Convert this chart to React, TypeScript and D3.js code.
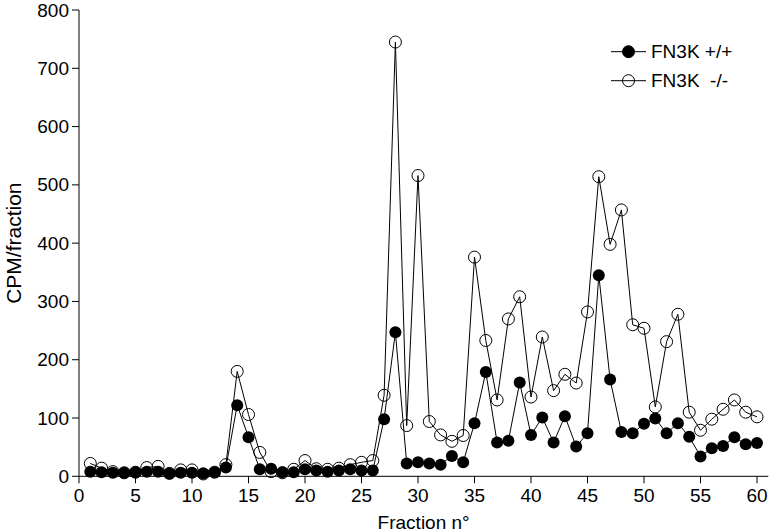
import React from "react";
import * as d3 from "d3";

const fractions = [
  1, 2, 3, 4, 5, 6, 7, 8, 9, 10, 11, 12, 13, 14, 15, 16, 17, 18, 19, 20,
  21, 22, 23, 24, 25, 26, 27, 28, 29, 30, 31, 32, 33, 34, 35, 36, 37, 38, 39, 40,
  41, 42, 43, 44, 45, 46, 47, 48, 49, 50, 51, 52, 53, 54, 55, 56, 57, 58, 59, 60,
];

const wildType = [
  8, 7, 6, 6, 7, 8, 8, 5, 6, 6, 5, 7, 15, 122, 67, 12, 13, 7, 7, 12,
  10, 8, 10, 12, 10, 10, 98, 247, 22, 24, 22, 20, 35, 24, 91, 179, 58, 61, 161, 71,
  101, 58, 103, 51, 74, 345, 166, 76, 74, 90, 99, 74, 91, 68, 34, 48, 52, 67, 55, 57,
];

const knockOut = [
  22, 14, 8, 6, 7, 15, 17, 5, 11, 11, 4, 7, 20, 180, 106, 41, 8, 6, 12, 27,
  13, 12, 14, 20, 24, 27, 139, 745, 87, 516, 94, 71, 60, 70, 376, 233, 131, 270, 308, 136,
  239, 147, 175, 160, 282, 514, 398, 457, 260, 254, 119, 231, 278, 110, 79, 98, 115, 131, 110, 102,
];

const xTicks = [0, 5, 10, 15, 20, 25, 30, 35, 40, 45, 50, 55, 60];
const yTicks = [0, 100, 200, 300, 400, 500, 600, 700, 800];
const legendLabels = ["FN3K +/+", "FN3K  -/-"];

const W = 780;
const H = 532;
const FONT = "'Liberation Sans', Arial, sans-serif";
const FS = 19;

export default function App() {
  const x = d3.scaleLinear().domain([0, 61]).range([79, 79 + 61 * 11.3]);
  const y = d3.scaleLinear().domain([0, 800]).range([476.3, 10]);
  const line = d3
    .line<number>()
    .x((_, i) => x(fractions[i]))
    .y((d) => y(d));

  const r = 6;
  const x0 = x(0);
  const y0 = y(0);

  return (
    <svg
      width={W}
      height={H}
      style={{ position: "absolute", left: 0, top: 0, background: "#fff" }}
      fontFamily={FONT}
    >
      <rect x={0} y={0} width={W} height={H} fill="#fff" />
      {/* y axis */}
      <line x1={x0} x2={x0} y1={y(800)} y2={y0} stroke="#000" strokeWidth={1} />
      {yTicks.map((t) => (
        <g key={"y" + t}>
          <line x1={x0 - 7} x2={x0} y1={y(t)} y2={y(t)} stroke="#000" />
          <text
            x={x0 - 10}
            y={y(t)}
            textAnchor="end"
            dominantBaseline="central"
            fontSize={FS}
          >
            {t}
          </text>
        </g>
      ))}
      {/* x axis */}
      <line x1={x0} x2={x(61)} y1={y0} y2={y0} stroke="#000" strokeWidth={1} />
      {xTicks.map((t) => (
        <g key={"x" + t}>
          <line x1={x(t)} x2={x(t)} y1={y0} y2={y0 + 7} stroke="#000" />
          <text x={x(t)} y={y0 + 26} textAnchor="middle" fontSize={FS}>
            {t}
          </text>
        </g>
      ))}
      <text x={x(30.5)} y={529} textAnchor="middle" fontSize={FS}>
        Fraction n°
      </text>
      <text
        transform={`translate(21, ${(y(0) + y(800)) / 2}) rotate(-90)`}
        textAnchor="middle"
        fontSize={21}
      >
        CPM/fraction
      </text>

      {/* series +/+ */}
      <path d={line(wildType) || ""} fill="none" stroke="#000" strokeWidth={1} />
      {wildType.map((v, i) => (
        <circle key={"w" + i} cx={x(fractions[i])} cy={y(v)} r={r} fill="#000" />
      ))}
      {/* series -/- */}
      <path d={line(knockOut) || ""} fill="none" stroke="#000" strokeWidth={1} />
      {knockOut.map((v, i) => (
        <circle
          key={"k" + i}
          cx={x(fractions[i])}
          cy={y(v)}
          r={r}
          fill="none"
          stroke="#000"
          strokeWidth={1}
        />
      ))}

      {/* legend */}
      {legendLabels.map((lab, i) => {
        const ly = 51.7 + i * 29;
        return (
          <g key={lab}>
            <line x1={611} x2={646} y1={ly} y2={ly} stroke="#000" />
            <circle
              cx={628.5}
              cy={ly}
              r={r}
              fill={i === 0 ? "#000" : "none"}
              stroke="#000"
            />
            <text x={651} y={ly} dominantBaseline="central" fontSize={FS} xmlSpace="preserve">
              {lab}
            </text>
          </g>
        );
      })}
    </svg>
  );
}
